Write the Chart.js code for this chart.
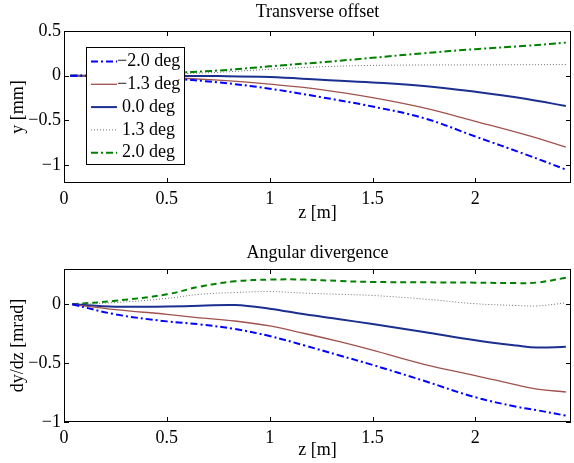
<!DOCTYPE html>
<html>
<head>
<meta charset="utf-8">
<script src="https://cdn.jsdelivr.net/npm/chart.js@4.4.1/dist/chart.umd.min.js"></script>
<style>
  html, body { margin: 0; padding: 0; background: #fff; }
  #wrap { position: relative; width: 574px; height: 463px; }
  canvas { position: absolute; left: 0; }
</style>
</head>
<body>
<div id="wrap">
  <canvas id="top" width="574" height="230" style="top:0"></canvas>
  <canvas id="bot" width="574" height="233" style="top:230px"></canvas>
</div>
<script>
/* Tilt study: transverse offset and angular divergence vs z */
const LABELS = ['\u22122.0 deg', '\u22121.3 deg', '0.0 deg', '1.3 deg', '2.0 deg'];

// transverse offset y [mm]
const zTop     = [0.03, 0.25, 0.5, 0.75, 1.0, 1.25, 1.5, 1.75, 2.0, 2.25, 2.44];
const offNeg20 = [0, -0.008, -0.03, -0.075, -0.145, -0.24, -0.345, -0.475, -0.68, -0.885, -1.05];
const offNeg13 = [0, -0.005, -0.02, -0.05, -0.095, -0.155, -0.245, -0.36, -0.51, -0.665, -0.80];
const off00    = [0, 0, -0.002, -0.004, -0.015, -0.045, -0.075, -0.115, -0.18, -0.26, -0.34];
const off13    = [0, 0.005, 0.018, 0.038, 0.072, 0.10, 0.115, 0.12, 0.121, 0.123, 0.125];
const off20    = [0, 0.01, 0.03, 0.058, 0.105, 0.15, 0.20, 0.252, 0.297, 0.335, 0.37];

// angular divergence dy/dz [mrad]
const zBot     = [0.04, 0.25, 0.5, 0.66, 0.83, 1.0, 1.17, 1.34, 1.5, 1.75, 2.0, 2.2, 2.3, 2.44];
const divNeg20 = [0, -0.085, -0.145, -0.17, -0.21, -0.27, -0.35, -0.435, -0.515, -0.65, -0.79, -0.87, -0.90, -0.946];
const divNeg13 = [0, -0.045, -0.085, -0.115, -0.142, -0.184, -0.248, -0.318, -0.39, -0.51, -0.605, -0.685, -0.72, -0.745];
const div00    = [0, -0.02, -0.018, -0.013, -0.006, -0.037, -0.085, -0.127, -0.168, -0.235, -0.305, -0.35, -0.367, -0.36];
const div13    = [0, 0.015, 0.05, 0.085, 0.1, 0.108, 0.095, 0.085, 0.075, 0.045, 0.005, -0.01, -0.014, 0.012];
const div20    = [0, 0.03, 0.085, 0.15, 0.195, 0.21, 0.21, 0.198, 0.19, 0.187, 0.184, 0.18, 0.185, 0.225];

const xTicks    = [0, 0.5, 1, 1.5, 2];
const yTicksTop = [-1, -0.5, 0, 0.5];
const yTicksBot = [-1, -0.5, 0];
const X_MAX = 2.465;

const FONT = { family: "'Liberation Serif', 'DejaVu Serif', serif", size: 18 };
Chart.defaults.color = '#000';
Chart.defaults.font.family = FONT.family;

const fmt = v => (v < 0 ? '\u2212' : '') + Math.abs(v);
const pts = (xs, ys) => xs.map((x, i) => ({ x, y: ys[i] }));

function ds(label, points, color, width, dash) {
  return { label, data: points, borderColor: color, backgroundColor: color, borderWidth: width,
           borderDash: dash, pointRadius: 0, fill: false, tension: 0.4 };
}

/* box round the plot with inward ticks on all four sides */
const frame = {
  id: 'frame',
  afterDatasetsDraw(chart) {
    const { ctx, chartArea: a, scales: { x, y } } = chart;
    ctx.save();
    ctx.strokeStyle = '#000';
    ctx.lineWidth = 1;
    ctx.beginPath();
    x.ticks.forEach(t => {
      const px = Math.round(x.getPixelForValue(t.value)) + 0.5;
      ctx.moveTo(px, a.bottom); ctx.lineTo(px, a.bottom - 5);
      ctx.moveTo(px, a.top); ctx.lineTo(px, a.top + 5);
    });
    y.ticks.forEach(t => {
      const py = Math.round(y.getPixelForValue(t.value)) + 0.5;
      ctx.moveTo(a.left, py); ctx.lineTo(a.left + 5, py);
      ctx.moveTo(a.right, py); ctx.lineTo(a.right - 5, py);
    });
    ctx.stroke();
    ctx.strokeRect(Math.round(a.left) + 0.5, Math.round(a.top) + 0.5,
                   Math.round(a.width) - 1, Math.round(a.height) - 1);
    ctx.restore();
  }
};

/* MATLAB-like boxed legend */
const boxLegend = {
  id: 'boxLegend',
  afterDraw(chart, args, o) {
    if (!o || !o.show) return;
    const { ctx } = chart;
    ctx.save();
    ctx.fillStyle = '#fff';
    ctx.fillRect(o.left, o.top, o.width, o.height);
    ctx.strokeStyle = '#000';
    ctx.lineWidth = 1;
    ctx.strokeRect(o.left + 0.5, o.top + 0.5, o.width, o.height);
    ctx.font = FONT.size + 'px ' + FONT.family;
    ctx.textBaseline = 'middle';
    chart.data.datasets.forEach((d, i) => {
      const cy = o.top + 14.5 + i * o.row;
      ctx.strokeStyle = d.borderColor;
      ctx.lineWidth = d.borderWidth;
      ctx.setLineDash(d.borderDash || []);
      ctx.beginPath();
      ctx.moveTo(o.left + 5, cy);
      ctx.lineTo(o.left + 31, cy);
      ctx.stroke();
      ctx.setLineDash([]);
      ctx.fillStyle = '#000';
      ctx.fillText(d.label, o.left + (d.label[0] === '\u2212' ? 31 : 36), cy);
    });
    ctx.restore();
  }
};

function makeChart(id, cfg) {
  return new Chart(document.getElementById(id), {
    type: 'line',
    data: { datasets: cfg.datasets },
    options: {
      responsive: false, animation: false,
      layout: { padding: { left: 0, right: 3, top: 0, bottom: 0 } },
      scales: {
        x: {
          type: 'linear', min: 0, max: X_MAX,
          afterBuildTicks: s => { s.ticks = xTicks.map(v => ({ value: v })); },
          afterFit: s => { s.height = cfg.xHeight; },
          grid: { display: false, drawTicks: false }, border: { display: false },
          ticks: { padding: 5, font: FONT, maxRotation: 0, autoSkip: false, callback: fmt },
          title: { display: true, text: 'z [m]', font: FONT, padding: { top: 0, bottom: cfg.xTitlePad } }
        },
        y: {
          type: 'linear', min: cfg.yMin, max: cfg.yMax,
          afterBuildTicks: s => { s.ticks = cfg.yTicks.map(v => ({ value: v })); },
          afterFit: s => { s.width = 64; },
          grid: { display: false, drawTicks: false }, border: { display: false },
          ticks: { padding: 3, font: FONT, autoSkip: false, callback: fmt },
          title: { display: true, text: cfg.yTitle, font: FONT, padding: { top: 7.2, bottom: 0 } }
        }
      },
      plugins: {
        legend: { display: false },
        tooltip: { enabled: false },
        title: { display: true, text: cfg.title, font: { ...FONT, weight: 'normal' }, fullSize: false,
                 padding: cfg.titlePad },
        boxLegend: cfg.legend || { show: false }
      }
    },
    plugins: [frame, boxLegend]
  });
}

makeChart('top', {
  title: 'Transverse offset', titlePad: { top: 1.8, bottom: 7.6 },
  yTitle: 'y [mm]', yMin: -1.2, yMax: 0.5, yTicks: yTicksTop,
  xHeight: 47, xTitlePad: 6.2,
  legend: { show: true, left: 86, top: 47, width: 98, height: 117, row: 22.8 },
  datasets: [
    ds(LABELS[0], pts(zTop, offNeg20), '#0000FF', 2, [7, 3, 2, 3]),
    ds(LABELS[1], pts(zTop, offNeg13), '#A0524D', 1.3, []),
    ds(LABELS[2], pts(zTop, off00), '#1B2F8F', 2, []),
    ds(LABELS[3], pts(zTop, off13), '#707070', 1, [1, 2]),
    ds(LABELS[4], pts(zTop, off20), '#008000', 2, [7, 3, 2, 3])
  ]
});

makeChart('bot', {
  title: 'Angular divergence', titlePad: { top: 12.2, bottom: 5.2 },
  yTitle: 'dy/dz [mrad]', yMin: -1, yMax: 0.3, yTicks: yTicksBot,
  xHeight: 41, xTitlePad: 2.2,
  datasets: [
    ds(LABELS[0], pts(zBot, divNeg20), '#0000FF', 2, [7, 3, 2, 3]),
    ds(LABELS[1], pts(zBot, divNeg13), '#A0524D', 1.3, []),
    ds(LABELS[2], pts(zBot, div00), '#1B2F8F', 2, []),
    ds(LABELS[3], pts(zBot, div13), '#707070', 1, [1, 2]),
    ds(LABELS[4], pts(zBot, div20), '#008000', 2, [6, 4])
  ]
});
</script>
</body>
</html>
